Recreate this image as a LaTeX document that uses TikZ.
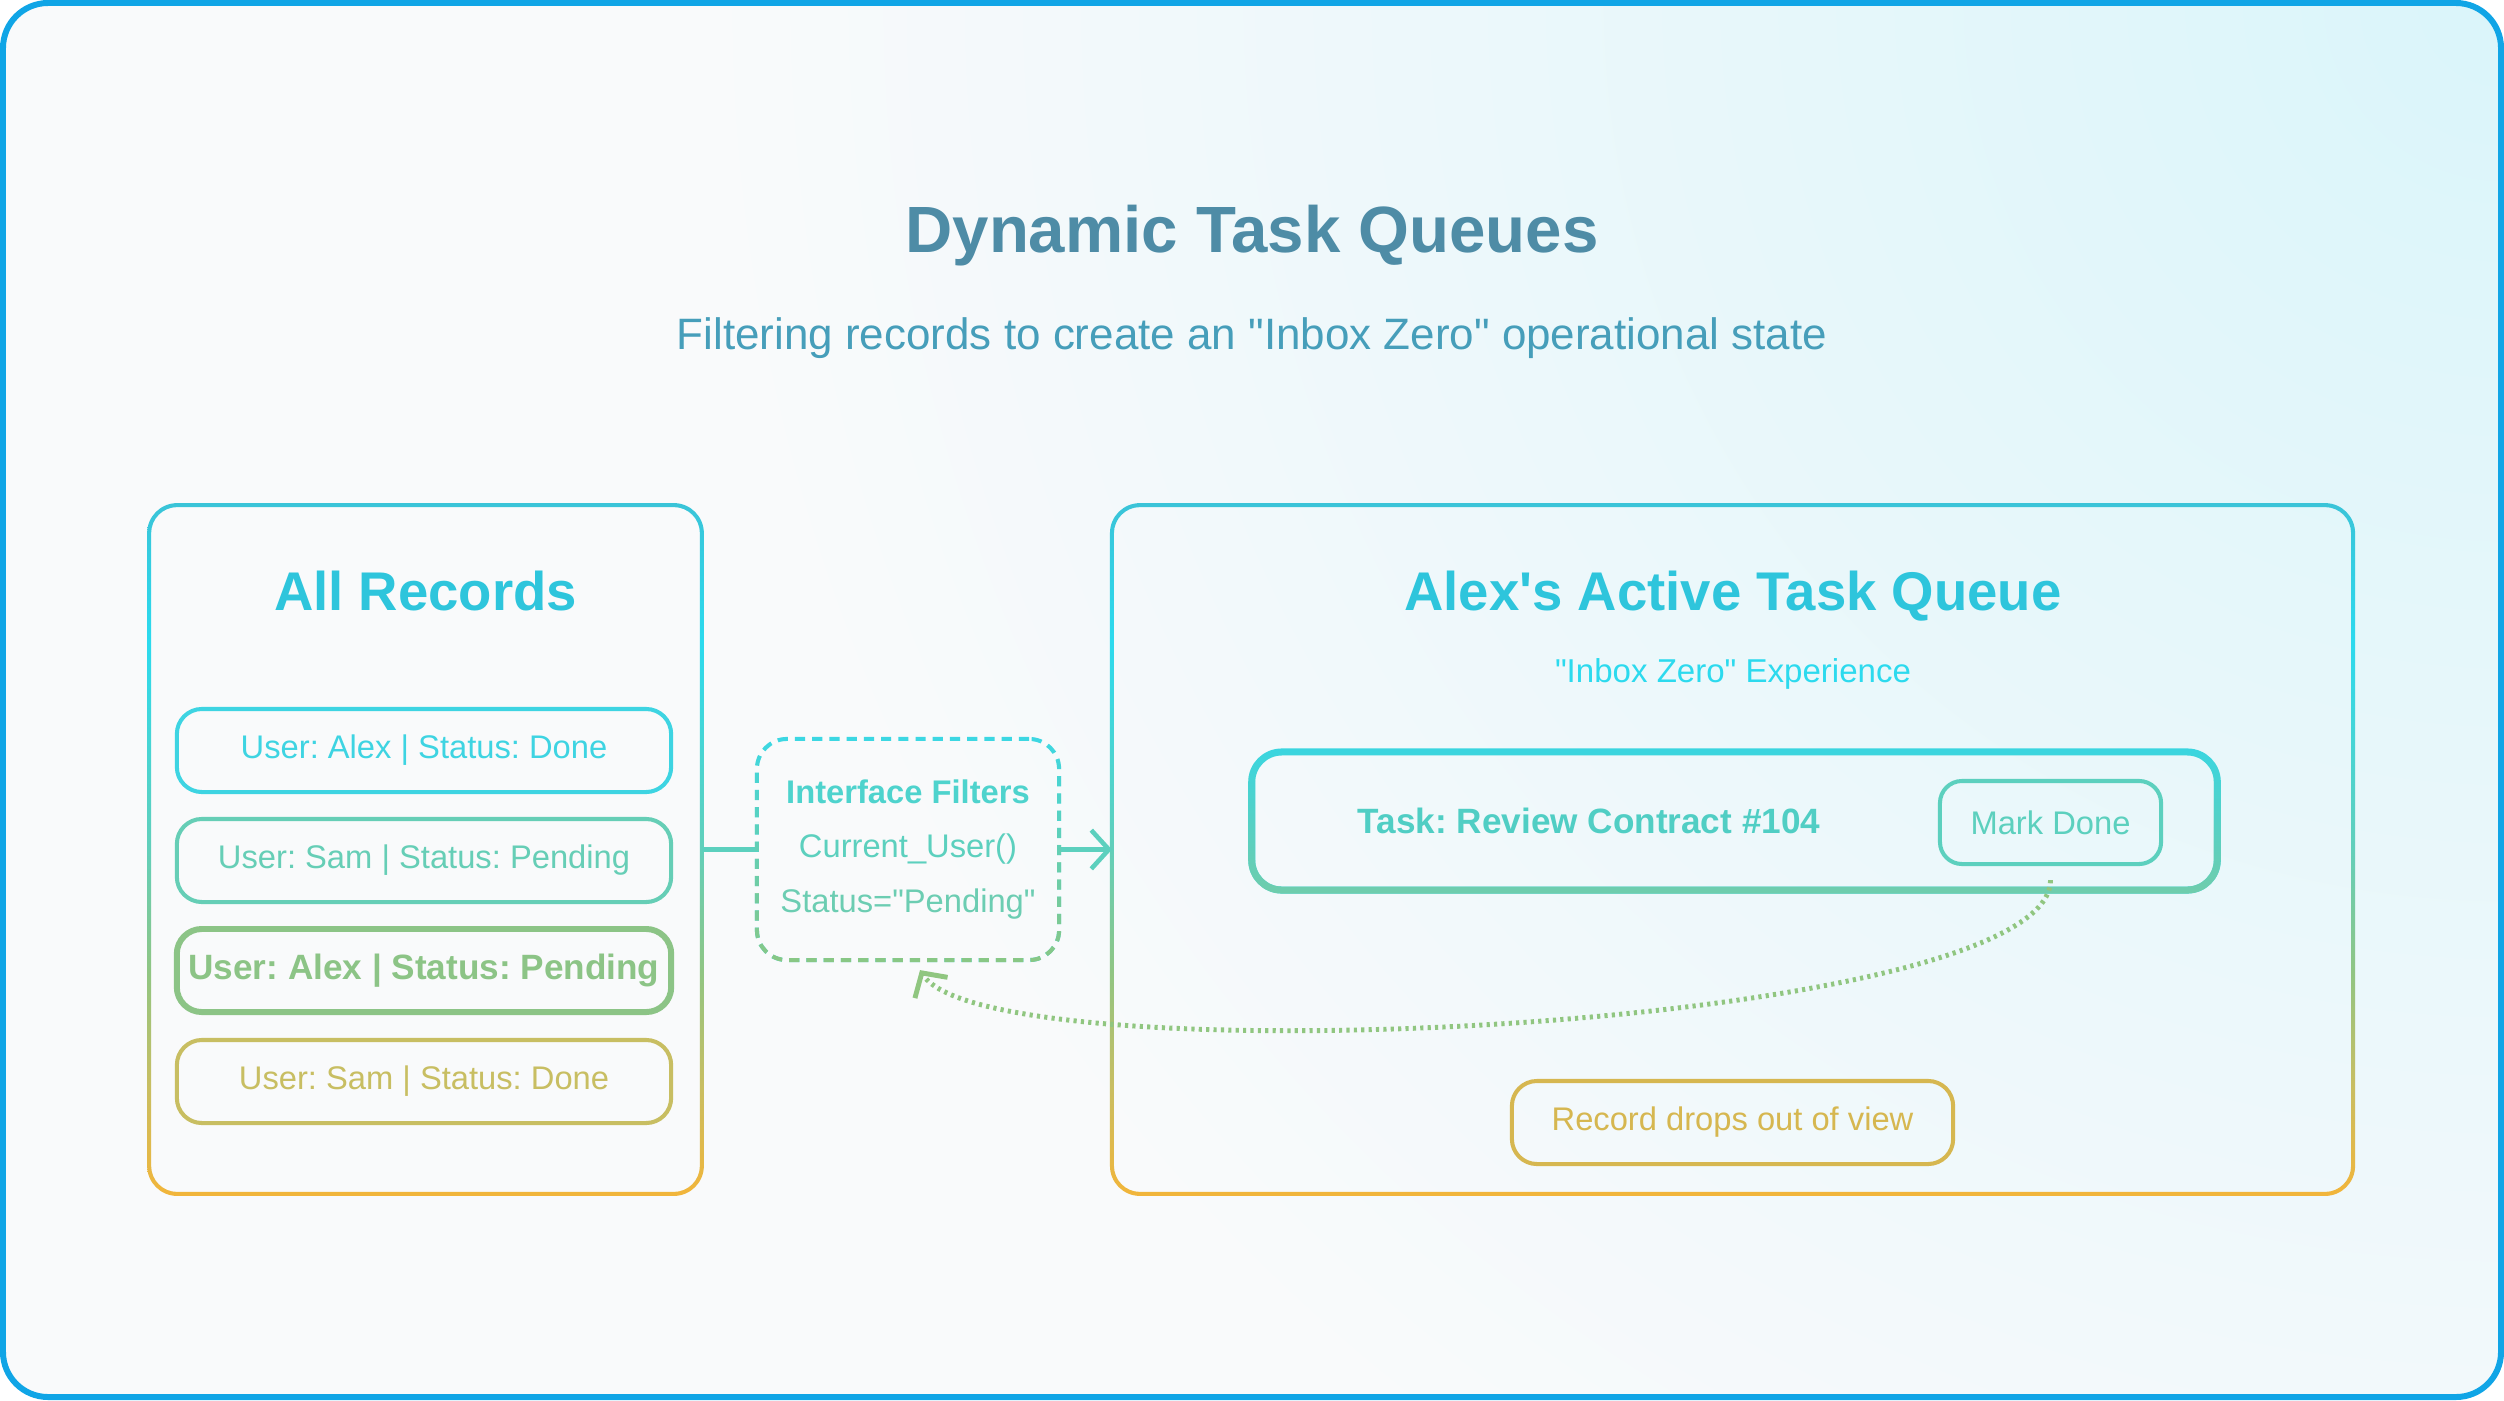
\documentclass[tikz,border=0pt]{standalone}
\usepackage{fontspec}
\setmainfont{Liberation Sans}[Ligatures=TeXOff]
\usetikzlibrary{arrows.meta, positioning, fadings}
\frenchspacing

\definecolor{frameblue}{RGB}{16,165,230}
\definecolor{bgcyan}{RGB}{218,245,250}
\definecolor{bgwhite}{RGB}{249,250,251}
\definecolor{headteal}{RGB}{78,140,166}
\definecolor{subteal}{RGB}{70,158,186}
\definecolor{topcyan}{RGB}{58,196,216}
\definecolor{brightcyan}{RGB}{44,218,238}
\definecolor{midteal}{RGB}{98,207,186}
\definecolor{leafgreen}{RGB}{145,197,130}
\definecolor{olivegold}{RGB}{200,190,98}
\definecolor{warmorange}{RGB}{242,181,58}
\definecolor{titlecyan}{RGB}{46,197,220}
\definecolor{rowcyan}{RGB}{62,212,226}
\definecolor{rowteal}{RGB}{102,206,182}
\definecolor{rowgreen}{RGB}{140,196,134}
\definecolor{rowgold}{RGB}{200,190,98}
\definecolor{filtercyan}{RGB}{60,216,228}
\definecolor{filtergreen}{RGB}{138,199,132}
\definecolor{linkteal}{RGB}{92,208,190}
\definecolor{taskcyan}{RGB}{58,214,224}
\definecolor{taskgreen}{RGB}{112,205,172}
\definecolor{tasktext}{RGB}{80,206,196}
\definecolor{dotgreen}{RGB}{144,198,128}
\definecolor{dropgold}{RGB}{214,183,80}

\pgfdeclareverticalshading{boxgrad}{100bp}{color(0bp)=(warmorange); color(25bp)=(warmorange);
  color(33bp)=(olivegold); color(41bp)=(leafgreen); color(50bp)=(midteal);
  color(65bp)=(brightcyan); color(75bp)=(topcyan); color(100bp)=(topcyan)}

% gradient frame round a node
\newcommand{\gradframe}[1]{%
  \shade[shading=boxgrad, even odd rule]
    ([shift={(-2,2)}]#1.south west) [rounded corners=0.3cm] rectangle ([shift={(2,-2)}]#1.north east)
    ([shift={(2,-2)}]#1.south west) [rounded corners=0.26cm] rectangle ([shift={(-2,2)}]#1.north east);}

\begin{document}
\begin{tikzpicture}[x=0.01cm, y=-0.01cm,
  bigbox/.style={minimum height=6.87cm, inner sep=0pt},
  grouptitle/.style={font=\fontsize{15.5}{18}\selectfont\bfseries, text=titlecyan},
  small/.style={font=\fontsize{9.3}{11}\selectfont},
  recbox/.style={small, draw, rounded corners=0.25cm, line width=1.15pt,
                 minimum width=4.94cm, minimum height=0.83cm},
  filterbox/.style={draw=filtercyan, line width=1.15pt, dash pattern=on 2.9pt off 2pt,
                    rounded corners=0.3cm, minimum width=3.02cm, minimum height=2.21cm,
                    align=center, font=\fontsize{9.3}{15.6}\selectfont, text=linkteal,
                    postaction={draw=filtergreen, path fading=north}},
  taskbox/.style={draw=taskcyan, line width=2pt, rounded corners=0.3cm,
                  minimum width=9.65cm, minimum height=1.38cm,
                  postaction={draw=taskgreen, path fading=north}},
  link/.style={draw=linkteal, line width=1.3pt},
  chevron/.style={-{Straight Barb[length=5pt, width=11pt]}},
  dotlink/.style={draw=dotgreen, line width=1.4pt, dash pattern=on 0.9pt off 1.2pt}
]
  \useasboundingbox (0,0) rectangle (2504,1400);
  % Backdrop and frame
  \begin{scope}
    \clip[rounded corners=0.45cm] (3,3) rectangle (2501,1397);
    \fill[bgwhite] (3,3) rectangle (2501,1397);
    \shade[inner color=bgcyan, outer color=bgwhite] (2504,0) circle (18cm);
  \end{scope}
  \draw[frameblue, line width=1.7pt, rounded corners=0.45cm] (3,3) rectangle (2501,1397);

  % Heading
  \node[font=\fontsize{18.6}{22}\selectfont\bfseries, text=headteal] (title) at (1252,236)
    {Dynamic Task Queues};
  \node[font=\fontsize{12.5}{15}\selectfont, text=subteal] (subtitle) at (1252,338)
    {Filtering records to create an "Inbox Zero" operational state};

  % All records
  \node[bigbox, minimum width=5.51cm] (allrec) at (425.5,849.5) {};
  \gradframe{allrec}
  \node[grouptitle] (alltitle) at (425.5,591) {All Records};
  \node[recbox, draw=rowcyan, text=rowcyan] (rec1) at (424,750.5) {User: Alex | Status: Done};
  \node[recbox, draw=rowteal, text=rowteal] (rec2) at (424,860.5) {User: Sam | Status: Pending};
  \node[recbox, line width=1.7pt, draw=rowgreen, text=rowgreen, font=\bfseries] (rec3) at (424,970.5)
    {User: Alex | Status: Pending};
  \node[recbox, draw=rowgold, text=rowgold] (rec4) at (424,1081.5) {User: Sam | Status: Done};

  % Filter step
  \node[filterbox] (filter) at (908,849.5)
    {\textcolor[RGB]{78,211,205}{\bfseries Interface Filters}\\
     Current\_User()\\
     \textcolor[RGB]{108,205,178}{Status="Pending"}};

  % Task queue
  \node[bigbox, minimum width=12.39cm] (queue) at (1732.5,849.5) {};
  \gradframe{queue}
  \node[grouptitle] (queuetitle) at (1733,596) {Alex's Active Task Queue};
  \node[font=\fontsize{9.4}{11}\selectfont, text=brightcyan] (queuesub) at (1733,674)
    {"Inbox Zero" Experience};
  \node[taskbox] (task) at (1734.5,821) {};
  \node[small, font=\bfseries, text=tasktext] (tasklabel) at (1589,821) {Task: Review Contract \#104};
  \node[small, draw=linkteal, text=linkteal, line width=1.15pt, rounded corners=0.22cm,
        minimum width=2.21cm, minimum height=0.83cm] (done) at (2050.5,822.5) {Mark Done};
  \node[small, draw=dropgold, text=dropgold, line width=1.15pt, rounded corners=0.25cm,
        minimum width=4.41cm, minimum height=0.83cm] (drops) at (1732.5,1122.5)
    {Record drops out of view};

  % Connectors
  \draw[link] (allrec.east) -- (filter.west);
  \draw[link, chevron] (filter.east) -- (queue.west);
  \draw[dotlink, -{Straight Barb[length=5pt, width=11pt]}]
    ([yshift=-4]done.south) .. controls (2051,1030) and (990,1080) .. ([shift={(12,8)}]filter.south);
\end{tikzpicture}
\end{document}
